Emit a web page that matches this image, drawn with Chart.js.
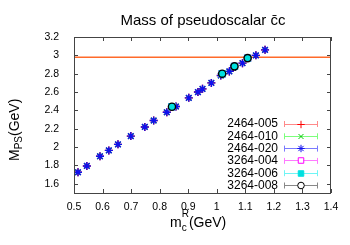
<!DOCTYPE html>
<html>
<head>
<meta charset="utf-8">
<script src="https://cdn.jsdelivr.net/npm/chart.js@4.4.0/dist/chart.umd.min.js"></script>
<style>
  html, body { margin: 0; padding: 0; background: #fff; }
  canvas { display: block; }
</style>
</head>
<body>
<canvas id="chart" width="350" height="245"></canvas>
<script>
// tick values
const xTicks = [0.5, 0.6, 0.7, 0.8, 0.9, 1.0, 1.1, 1.2, 1.3, 1.4];
const yTicks = [1.6, 1.8, 2.0, 2.2, 2.4, 2.6, 2.8, 3.0, 3.2];

// 24^3x64 ensembles (bare charm mass -> pseudoscalar mass)
const mc2464 = [0.514, 0.545, 0.591, 0.622, 0.654, 0.699, 0.748, 0.779, 0.825, 0.857,
  0.902, 0.934, 0.950, 0.981, 1.014, 1.044, 1.057, 1.090, 1.137, 1.169];
const mps2464_005 = [1.726, 1.795, 1.900, 1.964, 2.030, 2.120, 2.220, 2.290, 2.380, 2.443,
  2.537, 2.600, 2.635, 2.700, 2.780, 2.825, 2.865, 2.915, 3.000, 3.060];
const mps2464_010 = [1.726, 1.795, 1.900, 1.964, 2.030, 2.120, 2.220, 2.290, 2.380, 2.443,
  2.537, 2.600, 2.635, 2.700, 2.780, 2.825, 2.865, 2.915, 3.000, 3.060];
const mps2464_020 = [1.726, 1.795, 1.900, 1.964, 2.030, 2.120, 2.220, 2.290, 2.380, 2.443,
  2.537, 2.600, 2.635, 2.700, 2.780, 2.825, 2.865, 2.915, 3.000, 3.060];

// 32^3x64 ensembles
const mc3264 = [0.843, 1.019, 1.062, 1.108];
const mps3264_004 = [2.440, 2.800, 2.880, 2.970];
const mps3264_006 = [2.440, 2.800, 2.880, 2.970];
const mps3264_008 = [2.440, 2.800, 2.880, 2.970];

// experimental eta_c mass
const etaC = 2.98;

const seriesLabels = ["2464-005", "2464-010", "2464-020", "3264-004", "3264-006", "3264-008"];

const FONT = '"Liberation Sans", Arial, sans-serif';

const styles = [
  { style: "cross", color: "#ff0000", line: "#ff8a8a", fill: false, r: 4 },
  { style: "crossRot", color: "#00c800", line: "#7cff7c", fill: false, r: 3.8 },
  { style: "star", color: "#1010ee", line: "#7a7aff", fill: false, r: 4 },
  { style: "rect", color: "#ff00ff", line: "#ff7aff", fill: false, r: 4.2 },
  { style: "rect", color: "#00e0e0", line: "#6ff5f5", fill: true, r: 4.2 },
  { style: "circle", color: "#000000", line: "#888888", fill: false, r: 3.6 },
];

function pts(xs, ys) {
  return xs.map((x, i) => ({ x: x, y: ys[i] }));
}

function series(i, xs, ys) {
  const s = styles[i];
  return {
    label: seriesLabels[i],
    data: pts(xs, ys),
    showLine: false,
    pointStyle: s.style,
    pointRadius: s.r,
    pointBorderWidth: 1.4,
    pointBorderColor: s.color,
    pointBackgroundColor: s.fill ? s.color : "rgba(0,0,0,0)",
  };
}

// draw the box, inward ticks, axis titles, chart title and legend
const decor = {
  id: "decor",
  afterDraw(chart) {
    const ctx = chart.ctx;
    const a = chart.chartArea;
    const xs = chart.scales.x;
    const ys = chart.scales.y;
    ctx.save();
    ctx.strokeStyle = "#444";
    ctx.lineWidth = 1;
    ctx.strokeRect(a.left + 0.5, a.top + 0.5, a.right - a.left - 1, a.bottom - a.top);
    ctx.beginPath();
    xTicks.forEach((v) => {
      const px = Math.round(xs.getPixelForValue(v)) + 0.5;
      ctx.moveTo(px, a.bottom); ctx.lineTo(px, a.bottom - 4);
      ctx.moveTo(px, a.top); ctx.lineTo(px, a.top + 4);
    });
    yTicks.forEach((v) => {
      const py = Math.round(ys.getPixelForValue(v)) + 0.5;
      ctx.moveTo(a.left, py); ctx.lineTo(a.left + 4, py);
      ctx.moveTo(a.right, py); ctx.lineTo(a.right - 4, py);
    });
    ctx.stroke();

    // title
    ctx.fillStyle = "#000";
    ctx.textAlign = "center";
    ctx.textBaseline = "alphabetic";
    ctx.font = "15px " + FONT;
    ctx.fillText("Mass of pseudoscalar c\u0304c", 203, 25);

    // x axis title: m^R_c(GeV)
    ctx.textAlign = "left";
    let x0 = 170;
    ctx.font = "14px " + FONT;
    ctx.fillText("m", x0, 227);
    x0 += ctx.measureText("m").width;
    ctx.font = "10px " + FONT;
    ctx.fillText("R", x0, 217);
    ctx.fillText("c", x0, 231);
    x0 += ctx.measureText("R").width;
    ctx.font = "14px " + FONT;
    ctx.fillText("(GeV)", x0, 227);

    // y axis title: M_PS(GeV)
    ctx.save();
    ctx.translate(19, 161);
    ctx.rotate(-Math.PI / 2);
    let y0 = 0;
    ctx.font = "14px " + FONT;
    ctx.fillText("M", y0, 0);
    y0 += ctx.measureText("M").width;
    ctx.font = "10px " + FONT;
    ctx.fillText("PS", y0, 3);
    y0 += ctx.measureText("PS").width;
    ctx.font = "14px " + FONT;
    ctx.fillText("(GeV)", y0, 0);
    ctx.restore();

    // legend
    ctx.font = "12px " + FONT;
    ctx.textAlign = "right";
    ctx.textBaseline = "middle";
    seriesLabels.forEach((lab, i) => {
      const s = styles[i];
      const cy = 123.5 + i * 12.3;
      ctx.fillStyle = "#000";
      ctx.fillText(lab, 278, cy + 0.5);
      ctx.strokeStyle = s.line;
      ctx.lineWidth = 1;
      ctx.beginPath();
      ctx.moveTo(284, Math.round(cy) + 0.5); ctx.lineTo(318, Math.round(cy) + 0.5);
      ctx.moveTo(284.5, cy - 2.5); ctx.lineTo(284.5, cy + 3.5);
      ctx.moveTo(317.5, cy - 2.5); ctx.lineTo(317.5, cy + 3.5);
      ctx.stroke();
      ctx.strokeStyle = s.color;
      ctx.fillStyle = s.fill ? s.color : "#fff";
      Chart.helpers.drawPoint(ctx, { pointStyle: s.style, radius: s.r - 0.3, rotation: 0, borderWidth: 1 }, 301, Math.round(cy) + 0.5);
    });
    ctx.restore();
  },
};

new Chart(document.getElementById("chart"), {
  type: "scatter",
  data: {
    datasets: [
      series(5, mc3264, mps3264_008),
      series(4, mc3264, mps3264_006),
      series(3, mc3264, mps3264_004),
      series(2, mc2464, mps2464_020),
      series(1, mc2464, mps2464_010),
      series(0, mc2464, mps2464_005),
      {
        label: "eta_c",
        data: [{ x: 0.5, y: etaC }, { x: 1.4, y: etaC }],
        showLine: true,
        borderColor: "#ff6a2a",
        borderWidth: 1.5,
        pointRadius: 0,
      },
    ],
  },
  options: {
    responsive: false,
    animation: false,
    layout: { padding: { left: 0, top: 37, right: 19, bottom: 0 } },
    plugins: {
      legend: { display: false },
      title: { display: false },
      tooltip: { enabled: false },
    },
    scales: {
      x: {
        type: "linear",
        min: 0.5,
        max: 1.4,
        grid: { display: false },
        border: { display: false },
        afterBuildTicks: (s) => { s.ticks = xTicks.map((v) => ({ value: v })); },
        afterFit: (s) => { s.height = 52; },
        ticks: {
          padding: 0,
          color: "#000",
          maxRotation: 0,
          autoSkip: false,
          font: { family: FONT, size: 10.5 },
          callback: (v) => String(v),
        },
      },
      y: {
        type: "linear",
        min: 1.5,
        max: 3.2,
        grid: { display: false },
        border: { display: false },
        afterBuildTicks: (s) => { s.ticks = yTicks.map((v) => ({ value: v })); },
        afterFit: (s) => { s.width = 74; },
        ticks: {
          padding: 7,
          color: "#000",
          autoSkip: false,
          font: { family: FONT, size: 10.5 },
          callback: (v) => String(v),
        },
      },
    },
  },
  plugins: [decor],
});
</script>
</body>
</html>
